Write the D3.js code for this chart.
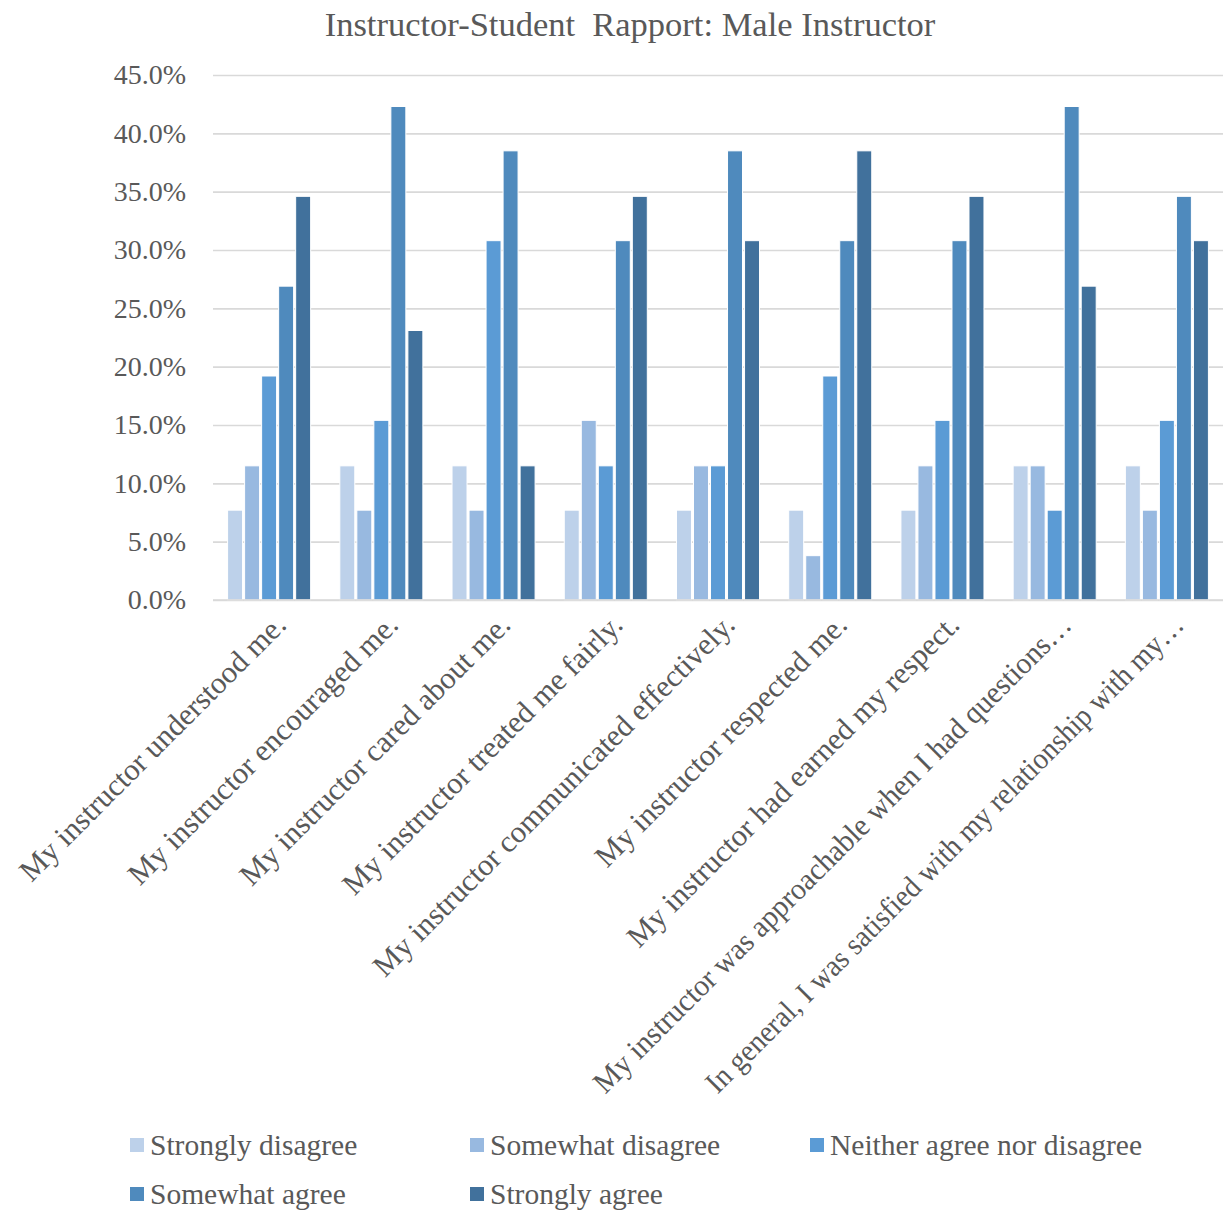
<!DOCTYPE html>
<html>
<head>
<meta charset="utf-8">
<script src="https://cdn.jsdelivr.net/npm/d3@7"></script>
<style>
  body { margin: 0; background: #ffffff; }
  text { font-family: "Liberation Serif", "Times New Roman", serif; fill: #595959; }
</style>
</head>
<body>
<svg id="chart" width="1225" height="1215"></svg>
<script>
// Survey statements (category axis)
const categories = [
  "My instructor understood me.",
  "My instructor encouraged me.",
  "My instructor cared about me.",
  "My instructor treated me fairly.",
  "My instructor communicated effectively.",
  "My instructor respected me.",
  "My instructor had earned my respect.",
  "My instructor was approachable when I had questions\u2026",
  "In general, I was satisfied with my relationship with my\u2026"
];

// Response options (series)
const seriesNames = [
  "Strongly disagree",
  "Somewhat disagree",
  "Neither agree nor disagree",
  "Somewhat agree",
  "Strongly agree"
];
const seriesColors = ["#bdd1ea", "#98b9e0", "#5b9bd5", "#4f8abd", "#41719c"];

// Percent of respondents per statement, one array per response option
const stronglyDisagree = [7.7, 11.5, 11.5, 7.7, 7.7, 7.7, 7.7, 11.5, 11.5];
const somewhatDisagree = [11.5, 7.7, 7.7, 15.4, 11.5, 3.8, 11.5, 11.5, 7.7];
const neitherAgreeNorDisagree = [19.2, 15.4, 30.8, 11.5, 11.5, 19.2, 15.4, 7.7, 15.4];
const somewhatAgree = [26.9, 42.3, 38.5, 30.8, 38.5, 30.8, 30.8, 42.3, 34.6];
const stronglyAgree = [34.6, 23.1, 11.5, 34.6, 30.8, 38.5, 34.6, 26.9, 30.8];

// Value-axis ticks
const yTicks = [0, 5, 10, 15, 20, 25, 30, 35, 40, 45];

const seriesValues = [stronglyDisagree, somewhatDisagree, neitherAgreeNorDisagree, somewhatAgree, stronglyAgree];

const svg = d3.select("#chart");
const plot = { left: 213, right: 1223, top: 75, bottom: 600 };
const maxLabelLength = 662;

const x0 = d3.scaleBand()
  .domain(d3.range(categories.length))
  .range([plot.left, plot.right])
  .paddingInner(0.26)
  .paddingOuter(0.13);

const x1 = d3.scaleBand()
  .domain(d3.range(seriesNames.length))
  .range([0, x0.bandwidth()])
  .paddingInner(0.12)
  .paddingOuter(0);

const y = d3.scaleLinear().domain([0, 45]).range([plot.bottom, plot.top]);

// Title
svg.append("text")
  .attr("x", 630)
  .attr("y", 36)
  .attr("text-anchor", "middle")
  .style("font-size", "34.5px")
  .style("white-space", "pre")
  .text("Instructor-Student  Rapport: Male Instructor");

// Horizontal gridlines
const grid = svg.append("g")
  .attr("transform", `translate(${plot.left},0)`)
  .call(d3.axisLeft(y).tickValues(yTicks).tickSize(-(plot.right - plot.left)).tickFormat(""));
grid.select(".domain").remove();
grid.selectAll("line").attr("stroke", "#d9d9d9").attr("stroke-width", 1.6);

// Value-axis labels
const yAxis = svg.append("g")
  .attr("transform", `translate(${plot.left},0)`)
  .call(d3.axisLeft(y).tickValues(yTicks).tickSize(0).tickPadding(27)
    .tickFormat(d => d.toFixed(1) + "%"));
yAxis.select(".domain").remove();
yAxis.selectAll("text")
  .style("font-size", "28px")
  .style("font-family", "'Liberation Serif', serif")
  .attr("fill", "#595959");

// Bars
const groups = svg.append("g").selectAll("g")
  .data(categories)
  .join("g")
  .attr("transform", (d, i) => `translate(${x0(i)},0)`);

groups.selectAll("rect")
  .data((d, i) => seriesValues.map((vals, s) => ({ s, v: vals[i] })))
  .join("rect")
  .attr("x", d => x1(d.s))
  .attr("width", x1.bandwidth())
  .attr("y", d => y(d.v))
  .attr("height", d => y(0) - y(d.v))
  .attr("fill", d => seriesColors[d.s])
  .attr("stroke", "#ffffff")
  .attr("stroke-width", 1);

// Category axis line
svg.append("line")
  .attr("x1", plot.left).attr("x2", plot.right)
  .attr("y1", y(0)).attr("y2", y(0))
  .attr("stroke", "#d9d9d9").attr("stroke-width", 1.6);

// Rotated category labels; over-long (truncated) labels are squeezed to a maximum length
const xAxis = svg.append("g")
  .attr("transform", `translate(0,${plot.bottom})`)
  .call(d3.axisBottom(x0).tickSize(0).tickFormat(i => categories[i]));
xAxis.select(".domain").remove();
xAxis.selectAll(".tick text")
  .style("font-size", "30.5px")
  .style("font-family", "'Liberation Serif', serif")
  .attr("fill", "#595959")
  .attr("text-anchor", "end")
  .attr("dy", "0.35em")
  .attr("transform", "translate(9,17) rotate(-45)")
  .each(function () {
    if (this.getComputedTextLength() > maxLabelLength) {
      d3.select(this)
        .attr("textLength", maxLabelLength)
        .attr("lengthAdjust", "spacingAndGlyphs");
    }
  });

// Legend
const legendPos = [
  [130, 1145], [470, 1145], [810, 1145],
  [130, 1194], [470, 1194]
];
const legend = svg.append("g").selectAll("g")
  .data(seriesNames)
  .join("g")
  .attr("transform", (d, i) => `translate(${legendPos[i][0]},${legendPos[i][1]})`);
legend.append("rect")
  .attr("x", 0).attr("y", -7)
  .attr("width", 14).attr("height", 14)
  .attr("fill", (d, i) => seriesColors[i]);
legend.append("text")
  .attr("x", 20)
  .attr("dy", "0.35em")
  .style("font-size", "29.5px")
  .text(d => d);
</script>
</body>
</html>
